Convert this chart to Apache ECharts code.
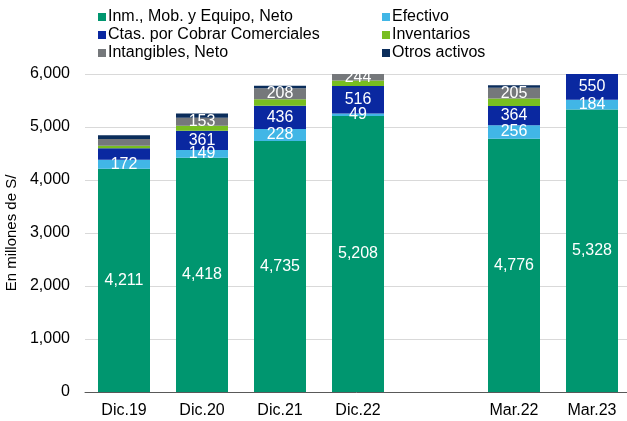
<!DOCTYPE html>
<html>
<head>
<meta charset="utf-8">
<script src="https://cdn.jsdelivr.net/npm/echarts@6/dist/echarts.min.js"></script>
<style>
  html, body { margin: 0; padding: 0; background: #fff; }
  #chart { width: 627px; height: 421px; }
</style>
</head>
<body>
<div id="chart"></div>
<script>
// categories (empty slot keeps the gap between Dic.22 and Mar.22)
const categories = ["Dic.19", "Dic.20", "Dic.21", "Dic.22", "", "Mar.22", "Mar.23"];

// values in millones de S/ (segments above 6,000 are cut off in the source)
const inmueblesData = [4211, 4418, 4735, 5208, null, 4776, 5328];
const efectivoData = [172, 149, 228, 49, null, 256, 184];
const ctasData = [215, 361, 436, 516, null, 364, 550];
const inventariosData = [50, 95, 125, 105, null, 140, null];
const intangiblesData = [125, 153, 208, 244, null, 205, null];
const otrosData = [70, 80, 45, null, null, 45, null];

const yTicks = [0, 1000, 2000, 3000, 4000, 5000, 6000];

const FONT = "Liberation Sans, Arial, sans-serif";
const fmt = (v) => v.toLocaleString("en-US");

const chart = echarts.init(document.getElementById("chart"));

function barSeries(name, data, color, showLabel) {
  return {
    name: name,
    type: "bar",
    stack: "total",
    barWidth: 52,
    data: data,
    itemStyle: { color: color },
    label: {
      show: showLabel,
      position: "inside",
      color: "#fff",
      fontSize: 16,
      fontFamily: FONT,
      formatter: (p) => fmt(p.value),
    },
  };
}

// labels the source leaves off (Dic.19 blue and grey segments)
const noLabel = (arr, idx) =>
  arr.map((v, i) => (idx.includes(i) ? { value: v, label: { show: false } } : v));

function legendCol(names, left) {
  return {
    data: names,
    orient: "vertical",
    left: left,
    top: 9,
    padding: 0,
    itemWidth: 8,
    itemHeight: 8,
    itemGap: 2,
    icon: "rect",
    textStyle: { fontSize: 16, fontFamily: FONT, color: "#000", padding: [0, 0, 0, -3] },
  };
}

const option = {
  animation: false,
  legend: [
    legendCol(["Inm., Mob. y Equipo, Neto", "Ctas. por Cobrar Comerciales", "Intangibles, Neto"], 98),
    legendCol(["Efectivo", "Inventarios", "Otros activos"], 382),
  ],
  grid: {
    left: 85,
    right: -4,
    top: 74,
    bottom: 29,
    containLabel: false,
    outerBoundsMode: "none",
  },
  xAxis: {
    type: "category",
    data: categories,
    axisTick: { show: false },
    axisLine: { lineStyle: { color: "#595959", width: 1 } },
    axisLabel: { color: "#000", fontSize: 16, fontFamily: FONT, margin: 11 },
  },
  yAxis: {
    type: "value",
    min: yTicks[0],
    max: yTicks[yTicks.length - 1],
    interval: 1000,
    name: "En millones de S/",
    nameLocation: "middle",
    nameGap: 63,
    nameTextStyle: { fontSize: 15, fontFamily: FONT, color: "#000" },
    axisLine: { show: false },
    axisTick: { show: false },
    splitLine: { lineStyle: { color: "#d9d9d9", width: 1 } },
    axisLabel: { color: "#000", fontSize: 16, fontFamily: FONT, margin: 15, formatter: (v) => fmt(v) },
  },
  series: [
    barSeries("Inm., Mob. y Equipo, Neto", inmueblesData, "#00966F", true),
    barSeries("Efectivo", efectivoData, "#41B6E6", true),
    barSeries("Ctas. por Cobrar Comerciales", noLabel(ctasData, [0]), "#0A28A0", true),
    barSeries("Inventarios", inventariosData, "#78BE20", false),
    barSeries("Intangibles, Neto", noLabel(intangiblesData, [0]), "#75787B", true),
    barSeries("Otros activos", otrosData, "#0B2D5B", false),
  ],
};

chart.setOption(option);
</script>
</body>
</html>
